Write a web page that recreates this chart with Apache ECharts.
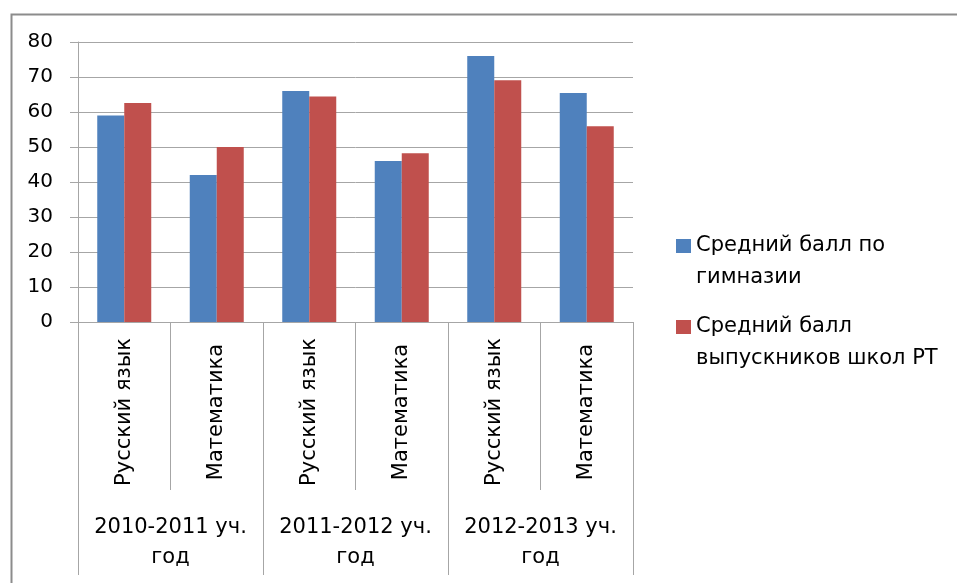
<!DOCTYPE html>
<html lang="ru">
<head>
<meta charset="UTF-8">
<title>Средний балл ЕГЭ</title>
<script src="https://cdn.jsdelivr.net/npm/echarts@6/dist/echarts.min.js"></script>
<style>
  html, body { margin: 0; padding: 0; background: #fff; }
  #chart { width: 957px; height: 583px; }
</style>
</head>
<body>
<div id="chart"></div>
<script>
// данные
const subjects = ['Русский язык', 'Математика', 'Русский язык', 'Математика', 'Русский язык', 'Математика'];
const years = ['2010-2011 уч.\nгод', '2011-2012 уч.\nгод', '2012-2013 уч.\nгод'];
const seriesNames = ['Средний балл по\nгимназии', 'Средний балл\nвыпускников школ РТ'];
const gymnasium = [59, 42, 66, 46, 76, 65.4];
const republic = [62.6, 50, 64.4, 48.2, 69.1, 55.9];
const yTicks = { min: 0, max: 80, step: 10 };

const font = 'DejaVu Sans';
const lineColor = '#a6a6a6';

const chart = echarts.init(document.getElementById('chart'));

// одна легенда на серию, чтобы поставить каждую точно;
// пустая первая строка поднимает квадратик к первой строке подписи
function legendFor(name, top) {
    return {
        data: [name],
        left: 676,
        top: top,
        padding: 0,
        icon: 'rect',
        itemWidth: 15,
        itemHeight: 14,
        selectedMode: false,
        formatter: n => '\n' + n,
        textStyle: {
            fontFamily: font,
            fontSize: 21,
            color: '#000',
            lineHeight: 32
        }
    };
}

chart.setOption({
    animation: false,
    graphic: [{
        type: 'rect',
        left: 9,
        top: 12,
        shape: { width: 1000, height: 700 },
        style: { fill: 'none', stroke: '#8c8c8c', lineWidth: 2 },
        silent: true
    }],
    legend: [
        legendFor(seriesNames[0], 198),
        legendFor(seriesNames[1], 279)
    ],
    grid: { left: 78, top: 42, right: 324, bottom: 261, containLabel: false },
    xAxis: [
        {
            type: 'category',
            data: subjects,
            position: 'bottom',
            axisLine: { lineStyle: { color: lineColor, width: 1 } },
            axisTick: { show: true, interval: 0, length: 168, lineStyle: { color: lineColor } },
            axisLabel: {
                interval: 0,
                rotate: 90,
                margin: 90,
                align: 'center',
                verticalAlign: 'middle',
                fontFamily: font,
                fontSize: 21,
                color: '#000'
            }
        },
        {
            type: 'category',
            data: years,
            position: 'bottom',
            axisLine: { lineStyle: { color: lineColor, width: 1 } },
            axisTick: { show: true, interval: 0, length: 253, lineStyle: { color: lineColor } },
            axisLabel: {
                interval: 0,
                margin: 191,
                fontFamily: font,
                fontSize: 21,
                lineHeight: 30,
                color: '#000'
            }
        }
    ],
    yAxis: {
        type: 'value',
        min: yTicks.min,
        max: yTicks.max,
        interval: yTicks.step,
        axisLine: { show: true, lineStyle: { color: lineColor } },
        axisTick: { show: true, length: 8, lineStyle: { color: lineColor } },
        splitLine: { lineStyle: { color: lineColor } },
        axisLabel: { margin: 25, fontFamily: font, fontSize: 20, color: '#000' }
    },
    series: [
        {
            name: seriesNames[0],
            type: 'bar',
            xAxisIndex: 0,
            data: gymnasium,
            barWidth: 27,
            barGap: '0%',
            itemStyle: { color: '#4f81bd' }
        },
        {
            name: seriesNames[1],
            type: 'bar',
            xAxisIndex: 0,
            data: republic,
            barWidth: 27,
            barGap: '0%',
            itemStyle: { color: '#c0504d' }
        }
    ]
});
</script>
</body>
</html>
